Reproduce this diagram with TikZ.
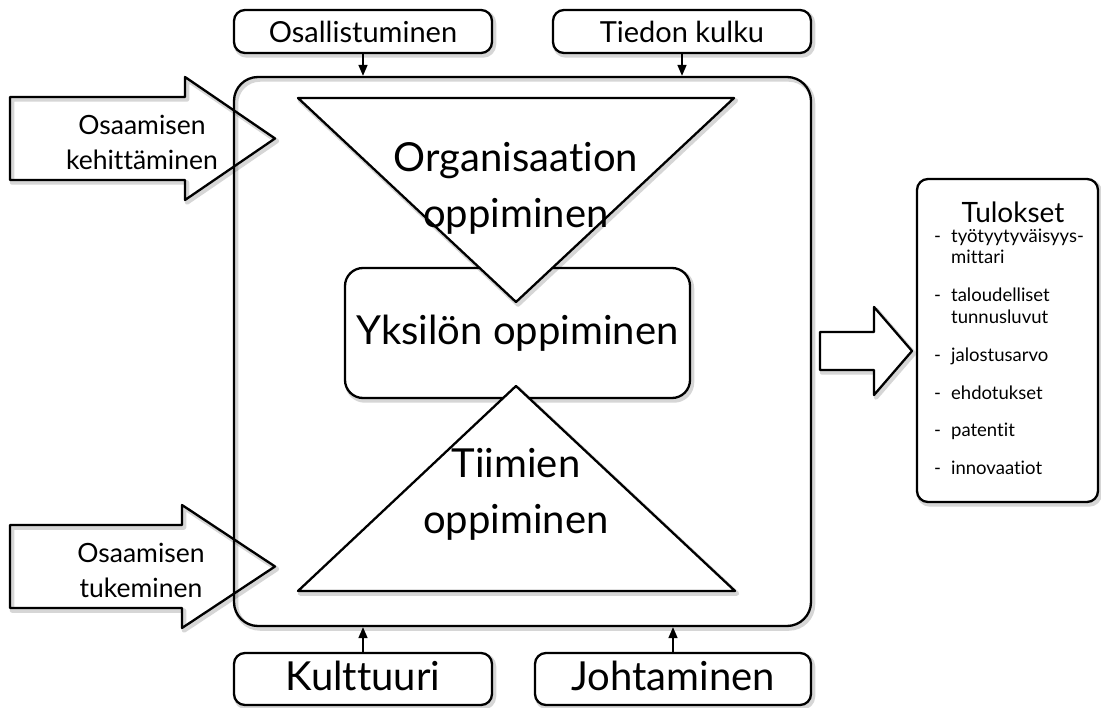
\documentclass[tikz,border=0pt]{standalone}
\usepackage{fontspec}
\setmainfont{Lato}[Ligatures={NoCommon}]
\usetikzlibrary{arrows.meta}

\begin{document}
\begin{tikzpicture}[x=1pt, y=-1pt, line width=2.3pt, line join=round,
  soft/.style={preaction={draw=black, opacity=0.16, line width=4.5pt,
      transform canvas={shift={(2pt,-2.5pt)}}}},
  tag/.style={draw, soft, fill=white, rounded corners=11pt, inner sep=0pt},
  link/.style={line width=1.6pt, -{Triangle[length=11pt,width=9pt]}},
  ftag/.style={font=\fontsize{29}{34}\selectfont},
  farrow/.style={font=\fontsize{26.5}{35}\selectfont},
  fbig/.style={font=\fontsize{40}{56}\selectfont},
  fitem/.style={font=\fontsize{18.5}{22}\selectfont}]
\useasboundingbox (0,0) rectangle (1101,708);

% main frame
\node[draw, soft, rounded corners=24pt, minimum width=577pt, minimum height=549pt]
  (frame) at (522.5,351.5) {};

% factors above and below the frame
\node[tag, ftag, minimum width=258pt, minimum height=43pt] (osal) at (363,31.5) {Osallistuminen};
\node[tag, ftag, minimum width=258pt, minimum height=43pt] (tied) at (682,31.5) {Tiedon kulku};
\node[tag, fbig, minimum width=258pt, minimum height=52pt, text depth=6pt] (kult) at (363,679) {Kulttuuri};
\node[tag, fbig, minimum width=276pt, minimum height=52pt, text depth=6pt] (joht) at (673,679) {Johtaminen};

\draw[link] (osal.south) -- (osal.south |- frame.north);
\draw[link] (tied.south) -- (tied.south |- frame.north);
\draw[link] (kult.north) -- (kult.north |- frame.south);
\draw[link] (joht.north) -- (joht.north |- frame.south);

% individual learning in the middle
\node[draw, soft, fill=white, rounded corners=18pt, minimum width=345pt, minimum height=130pt,
  fbig] (yks) at (517.5,333) {Yksilön oppiminen};

% organisational learning (inverted triangle) and team learning
\coordinate (o1) at (298,98);
\coordinate (o2) at (734,98);
\coordinate (o3) at (516,302);
\draw[soft, fill=white] (o1) -- (o2) -- (o3) -- cycle;
\node[fbig, align=center] (org) at (516,188) {Organisaation\\oppiminen};

\coordinate (t1) at (298,591);
\coordinate (t2) at (735,591);
\coordinate (t3) at (516,386);
\draw[soft, fill=white] (t1) -- (t2) -- (t3) -- cycle;
\node[fbig, align=center] (tii) at (516,494) {Tiimien\\oppiminen};

% block arrows on the left
\coordinate (a1) at (10,97);
\coordinate (a2) at (185,97);
\coordinate (a3) at (185,77);
\coordinate (a4) at (275,138.5);
\coordinate (a5) at (185,200);
\coordinate (a6) at (185,180);
\coordinate (a7) at (10,180);
\draw[soft] (a1) -- (a2) -- (a3) -- (a4) -- (a5) -- (a6) -- (a7) -- cycle;
\node[farrow, align=center] (kehi) at (142,142) {Osaamisen\\kehittäminen};

\coordinate (b1) at (10,525);
\coordinate (b2) at (182,525);
\coordinate (b3) at (182,505);
\coordinate (b4) at (275,566.5);
\coordinate (b5) at (182,628);
\coordinate (b6) at (182,608);
\coordinate (b7) at (10,608);
\draw[soft] (b1) -- (b2) -- (b3) -- (b4) -- (b5) -- (b6) -- (b7) -- cycle;
\node[farrow, align=center] (tuke) at (141,570) {Osaamisen\\tukeminen};

% block arrow to the results
\coordinate (c1) at (820,332);
\coordinate (c2) at (874,332);
\coordinate (c3) at (874,307);
\coordinate (c4) at (912,351);
\coordinate (c5) at (874,395);
\coordinate (c6) at (874,370);
\coordinate (c7) at (820,370);
\draw[soft, fill=white] (c1) -- (c2) -- (c3) -- (c4) -- (c5) -- (c6) -- (c7) -- cycle;

% results
\node[draw, soft, fill=white, rounded corners=11pt, minimum width=181pt, minimum height=323pt]
  (tulo) at (1007.5,340.5) {};
\node[font=\fontsize{28}{32}\selectfont, anchor=base, inner sep=0pt] (tulh) at (1013,223) {Tulokset};
\begin{scope}[every node/.style={fitem, anchor=base west, inner sep=0pt}]
  \node (d1) at (933,243) {-};  \node (r1) at (950,243) {työtyytyväisyys-};
  \node (r1b) at (950,264) {mittari};
  \node (d2) at (933,302) {-};  \node (r2) at (950,302) {taloudelliset};
  \node (r2b) at (950,324) {tunnusluvut};
  \node (d3) at (933,362) {-};  \node (r3) at (950,362) {jalostusarvo};
  \node (d4) at (933,400) {-};  \node (r4) at (950,400) {ehdotukset};
  \node (d5) at (933,437) {-};  \node (r5) at (950,437) {patentit};
  \node (d6) at (933,475) {-};  \node (r6) at (950,475) {innovaatiot};
\end{scope}
\end{tikzpicture}
\end{document}
